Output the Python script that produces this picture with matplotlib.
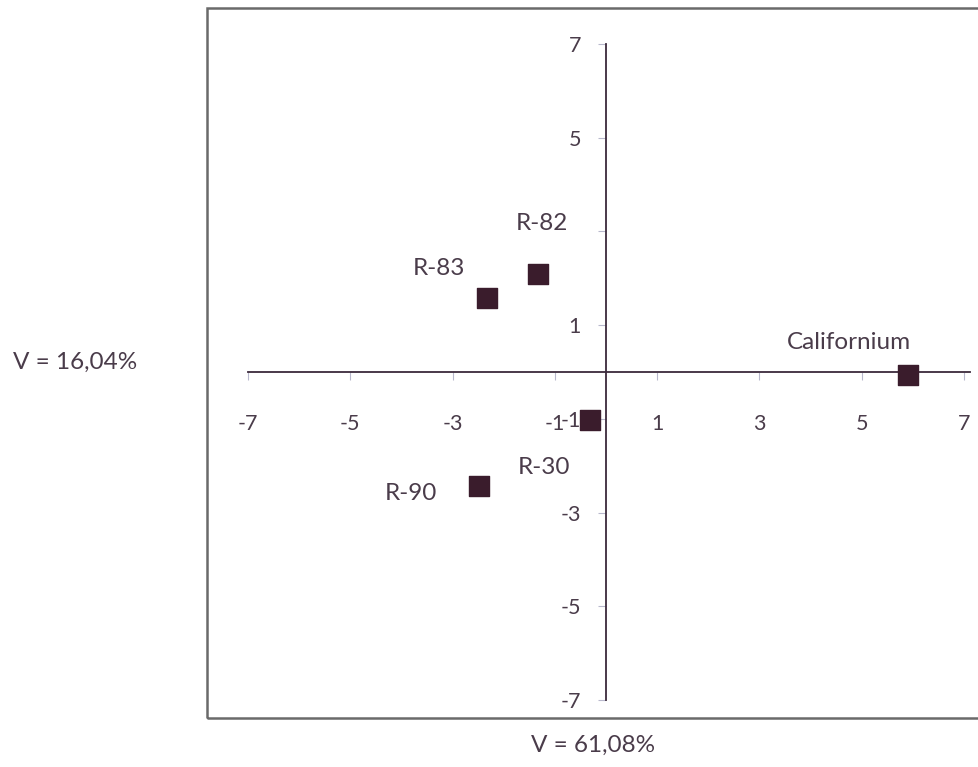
import numpy as np
import matplotlib.pyplot as plt
from matplotlib.patches import Rectangle

# scores on the first two components
names = ['R-82', 'R-83', 'Californium', 'R-30', 'R-90']
pc1 = [-1.33, -2.32, 5.9, -0.31, -2.48]
pc2 = [2.1, 1.57, -0.06, -1.02, -2.43]
# label offsets in pixels (data labels were moved by hand)
offs = [(4, 50), (-48, 30), (-59, 32), (-46, -48), (-68, -8)]

ticks = [-7, -5, -3, -1, 1, 3, 5, 7]
yticklabels = ['-7', '-5', '-3', '-1', '1', '', '5', '7']

plt.rcParams['font.family'] = ['Lato', 'DejaVu Sans']
txt = '#4a3c4a'
axc = '#3c2a3c'

fig = plt.figure(figsize=(9.79, 7.67), dpi=100)
ax = fig.add_axes([248/979, 67/767, 722/979, 656/767])

ax.scatter(pc1, pc2, marker='s', s=200, color='#3a1c2c', zorder=5)
for n, x, y, o in zip(names, pc1, pc2, offs):
    ax.annotate(n, (x, y), xytext=o, textcoords='offset pixels',
                ha='center', va='center', fontsize=17.5, color=txt)

ax.set_xlim(-7, 7.12)
ax.set_ylim(-7, 7)
ax.spines['left'].set_position(('data', 0))
ax.spines['bottom'].set_position(('data', 0))
ax.spines['top'].set_visible(False)
ax.spines['right'].set_visible(False)
for s in ['left', 'bottom']:
    ax.spines[s].set_color(axc)
    ax.spines[s].set_linewidth(1.3)

ax.set_xticks(ticks)
ax.set_xticklabels([str(t) for t in ticks])
ax.set_yticks(ticks)
ax.set_yticklabels(yticklabels)
ax.tick_params(axis='x', direction='out', length=6, color='#b8b8cc', pad=24,
               labelsize=15.5, labelcolor=txt)
ax.tick_params(axis='y', direction='out', length=6, color='#b8b8cc', pad=12,
               labelsize=15.5, labelcolor=txt)
ax.patch.set_visible(False)

fig.text(593/979, 1 - 745/767, 'V = 61,08%', ha='center', va='center',
         fontsize=17.5, color=txt)
fig.text(75/979, 1 - 362/767, 'V = 16,04%', ha='center', va='center',
         fontsize=17.5, color=txt)

fig.patches.append(Rectangle((207/979, 49/767), 0.9, 710/767,
                             transform=fig.transFigure, fill=False,
                             edgecolor='#6a6a6a', linewidth=1.8))

fig.savefig('out.png', dpi=100)
